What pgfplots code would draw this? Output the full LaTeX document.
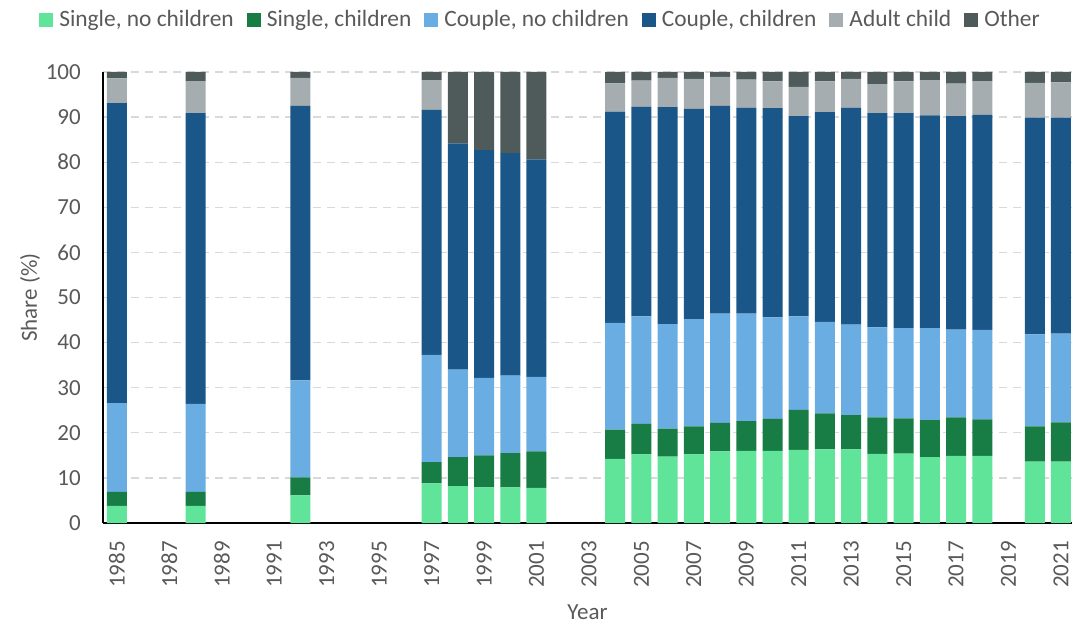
\documentclass[border=0pt]{standalone}
\usepackage{pgfplots}
\pgfplotsset{compat=1.18}
\usepackage{pgfplotstable}
\usepackage{fontspec}
\setmainfont{Carlito}
\definecolor{cA}{HTML}{5FE49A}
\definecolor{cB}{HTML}{177D45}
\definecolor{cC}{HTML}{6AADE2}
\definecolor{cD}{HTML}{1A5788}
\definecolor{cE}{HTML}{A5ADB0}
\definecolor{cF}{HTML}{4F5B5A}
\definecolor{txt}{HTML}{595959}
\definecolor{gridc}{HTML}{D9D9D9}
\newcommand{\fs}{\fontsize{23bp}{27bp}\selectfont}
\newcommand{\fl}{\fontsize{23.4bp}{27bp}\selectfont}
\pgfplotstableread{
year snc sc cnc cc ac oth
1985 3.8 3.1 19.7 66.5 5.5 1.4
1988 3.8 3.1 19.5 64.5 7.1 2.0
1992 6.1 4.0 21.5 60.9 6.2 1.3
1997 8.8 4.7 23.8 54.3 6.6 1.8
1998 8.2 6.4 19.4 50.2 0.0 15.8
1999 7.9 7.1 17.2 50.5 0.0 17.3
2000 7.9 7.6 17.2 49.3 0.0 18.0
2001 7.8 8.1 16.5 48.2 0.0 19.4
2004 14.2 6.5 23.7 46.8 6.3 2.5
2005 15.2 6.8 23.8 46.5 5.8 1.9
2006 14.7 6.2 23.2 48.1 6.5 1.3
2007 15.2 6.2 23.8 46.6 6.7 1.5
2008 15.9 6.3 24.2 46.1 6.4 1.1
2009 16.0 6.6 23.8 45.7 6.2 1.7
2010 16.0 7.1 22.5 46.4 5.9 2.1
2011 16.2 8.9 20.7 44.4 6.5 3.3
2012 16.3 8.0 20.3 46.5 6.8 2.1
2013 16.3 7.6 20.1 48.1 6.4 1.5
2014 15.3 8.1 20.0 47.5 6.4 2.7
2015 15.4 7.8 20.0 47.7 7.0 2.1
2016 14.6 8.2 20.4 47.2 7.8 1.8
2017 14.9 8.5 19.5 47.3 7.2 2.6
2018 14.9 8.1 19.8 47.7 7.5 2.0
2020 13.6 7.8 20.4 48.1 7.7 2.4
2021 13.6 8.7 19.7 47.9 7.8 2.3
}\datatable
\begin{document}
\begin{tikzpicture}
\useasboundingbox (-103bp,-105bp) rectangle (970bp,523bp);
\begin{axis}[
  scale only axis,
  width=969bp, height=451bp,
  ybar stacked, bar width=20bp,
  xmin=1984.47, xmax=2021.42,
  ymin=0, ymax=100,
  xtick={1985,1987,...,2021},
  ytick={0,10,...,100},
  axis x line=bottom, axis y line=left,
  x axis line style={-, black, line width=2.2bp},
  y axis line style={-, black, line width=1.3bp},
  major tick length=0pt,
  ymajorgrids,
  major grid style={gridc, line width=1.3bp, dash pattern=on 8bp off 6bp},
  /pgf/number format/1000 sep={},
  /pgf/number format/assume math mode=true,
  tick label style={font=\fs, text=txt},
  xticklabel style={rotate=90, anchor=east, inner xsep=18bp, inner ysep=0pt},
  yticklabel style={anchor=east, inner sep=0pt, xshift=-22bp},
  xlabel={Year},
  ylabel={Share (\%)},
  every axis x label/.style={at={(axis description cs:0.5,-0.197)}, anchor=center, font=\fs, text=txt},
  every axis y label/.style={at={(axis description cs:-0.0753,0.5)}, rotate=90, anchor=center, font=\fs, text=txt},
  legend columns=6,
  legend style={at={(axis description cs:0.4536,1.1175)}, anchor=center, draw=none, fill=none,
    font=\fl, text=txt,
    nodes={inner xsep=6bp, inner ysep=0bp},
    /tikz/every even column/.append style={column sep=7bp}},
  legend image code/.code={\fill[#1] (0bp,-7.5bp) rectangle (14bp,6.5bp);},
]
\addplot[fill=cA, draw=none] table[x=year, y=snc] {\datatable};
\addlegendentry{Single, no children}
\addplot[fill=cB, draw=none] table[x=year, y=sc] {\datatable};
\addlegendentry{Single, children}
\addplot[fill=cC, draw=none] table[x=year, y=cnc] {\datatable};
\addlegendentry{Couple, no children}
\addplot[fill=cD, draw=none] table[x=year, y=cc] {\datatable};
\addlegendentry{Couple, children}
\addplot[fill=cE, draw=none] table[x=year, y=ac] {\datatable};
\addlegendentry{Adult child}
\addplot[fill=cF, draw=none] table[x=year, y=oth] {\datatable};
\addlegendentry{Other}
\end{axis}
\end{tikzpicture}
\end{document}
